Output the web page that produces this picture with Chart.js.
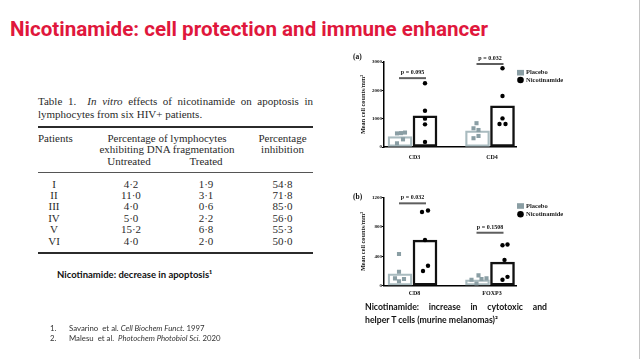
<!DOCTYPE html>
<html><head><meta charset="utf-8">
<script src="https://cdn.jsdelivr.net/npm/chart.js@4.4.0/dist/chart.umd.min.js"></script>
<style>
html,body{margin:0;padding:0;background:#fff;}
#slide{position:relative;width:640px;height:359px;overflow:hidden;background:#fff;}
.t{position:absolute;white-space:nowrap;}
#title{left:10px;top:19px;font:bold 20.6px/20px Roboto, sans-serif;color:#e0173c;}
.rule{position:absolute;left:38px;width:275px;background:#2b2b2b;}
canvas{position:absolute;}
#edge{position:absolute;left:639px;top:0;width:1px;height:359px;background:#c4c4c4;}
</style></head>
<body><div id="slide">
<div id="title" class="t">Nicotinamide: cell protection and immune enhancer</div>
<div class="rule" style="top:126px;height:2px"></div>
<div class="rule" style="top:172px;height:1px;background:#555"></div>
<div class="rule" style="top:252px;height:2px"></div>
<canvas id="chartA" width="260" height="120" style="left:340px;top:50px"></canvas>
<canvas id="chartB" width="260" height="118" style="left:340px;top:188px"></canvas>
<div id="edge"></div>
</div>
<script>
// ---------- data: panel (a) ----------
const categoriesA = ['CD3', 'CD4'];
const placeboMeanA = [370, 570];
const nicotinamideMeanA = [1100, 1450];
const placeboPointsA = [[480, 490, 510, 270, 130], [840, 660, 600, 390, 310]];
const nicotinamidePointsA = [[2250, 1280, 1000, 800, 180], [2780, 1800, 1010, 810, 810]];
const placeboJitterA = [[-3, 1, 5, 3, -3], [-1, -4, 1, 1, -4]];
const nicotinamideJitterA = [[0, 0, 0, 0, 0], [0, 0, 0, -3, 3]];
const pValuesA = ['p = 0.095', 'p = 0.032'];
const yTicksA = [0, 1000, 2000, 3000];

// ---------- data: panel (b) ----------
const categoriesB = ['CD8', 'FOXP3'];
const placeboMeanB = [160, 80];
const nicotinamideMeanB = [620, 320];
const placeboPointsB = [[430, 190, 100, 60, 90], [140, 80, 90, 100, 30]];
const nicotinamidePointsB = [[1000, 1020, 620, 270, 200], [550, 560, 350, 120, 80]];
const placeboJitterB = [[-1, -1, -5, -1, 4], [1, -6, 4, 9, -1]];
const nicotinamideJitterB = [[-3, 3, 0, 3, -2], [0, 5, 2, 5, 0]];
const pValuesB = ['p = 0.032', 'p = 0.1508'];
const yTicksB = [0, 400, 800, 1200];

// ---------- data: table ----------
const patients = ['I', 'II', 'III', 'IV', 'V', 'VI'];
const untreated = ['4·2', '11·0', '4·0', '5·0', '15·2', '4·0'];
const treated = ['1·9', '3·1', '0·6', '2·2', '6·8', '2·0'];
const inhibition = ['54·8', '71·8', '85·0', '56·0', '55·3', '50·0'];

const slide = document.getElementById('slide');
function txt(html, x, cy, font, size, opts) {
  opts = opts || {};
  const d = document.createElement('div');
  d.className = 't';
  d.innerHTML = html;
  const k = opts.k != null ? opts.k : 0.52;
  d.style.font = (opts.weight || 'normal') + ' ' + size + 'px/' + size + 'px ' + font;
  d.style.color = opts.color || '#222';
  d.style.top = (cy - k * size) + 'px';
  d.style.left = x + 'px';
  if (opts.align === 'center') d.style.transform = 'translateX(-50%)';
  if (opts.width) { d.style.width = opts.width + 'px'; d.style.whiteSpace = 'normal'; d.style.textAlign = 'justify'; d.style.textAlignLast = 'justify'; }
  slide.appendChild(d);
  return d;
}
const SERIF = '"Liberation Serif", serif';
const SANS = 'Lato, sans-serif';
const TC = '#2a2a2a';
// caption
txt('Table 1.&nbsp; <i>In vitro</i> effects of nicotinamide on apoptosis in', 38, 102, SERIF, 11, {color: TC, width: 275});
txt('lymphocytes from six HIV+ patients.', 38, 114.3, SERIF, 11, {color: TC});
// headers
txt('Patients', 38, 138.3, SERIF, 11, {color: TC});
txt('Percentage of lymphocytes', 167, 138.3, SERIF, 11, {color: TC, align: 'center'});
txt('exhibiting DNA fragmentation', 167, 150, SERIF, 11, {color: TC, align: 'center'});
txt('Untreated', 129, 161.7, SERIF, 11, {color: TC, align: 'center'});
txt('Treated', 206, 161.7, SERIF, 11, {color: TC, align: 'center'});
txt('Percentage', 282.5, 138.3, SERIF, 11, {color: TC, align: 'center'});
txt('inhibition', 282.5, 150, SERIF, 11, {color: TC, align: 'center'});
patients.forEach((p, i) => {
  const cy = 184.3 + i * 11.4;
  txt(p, 54, cy, SERIF, 11, {color: TC, align: 'center'});
  txt(untreated[i], 131, cy, SERIF, 11, {color: TC, align: 'center'});
  txt(treated[i], 206, cy, SERIF, 11, {color: TC, align: 'center'});
  txt(inhibition[i], 282.5, cy, SERIF, 11, {color: TC, align: 'center'});
});
// side texts
txt('Nicotinamide: decrease in apoptosis¹', 57, 275, SANS, 9.5, {weight: 'bold', color: '#111'});
txt('Nicotinamide: increase in cytotoxic and', 365, 307.3, SANS, 8.7, {weight: 'bold', color: '#111', width: 182});
txt('helper T cells (murine melanomas)²', 365, 320.7, SANS, 8.7, {weight: 'bold', color: '#111'});
txt('1.', 50, 329, SANS, 7.8, {color: '#333'});
txt('Savarino&nbsp; et al. <i>Cell Biochem Funct.</i> 1997', 69, 329, SANS, 7.8, {color: '#333'});
txt('2.', 50, 339.5, SANS, 7.8, {color: '#333'});
txt('Malesu&nbsp; et al.&nbsp; <i>Photochem Photobiol Sci.</i> 2020', 69, 339.5, SANS, 7.8, {color: '#333'});
txt('(a)', 353, 57.3, SERIF, 7.5, {weight: 'bold', color: '#111'});
txt('(b)', 353, 196.7, SERIF, 7.5, {weight: 'bold', color: '#111'});

// ---------- charts ----------
const PLACEBO_PT = '#8a9ea4';
const PLACEBO_BAR = '#a9bbbf';
const GC = [28.5, 106];   // group centres on the x scale
const OFF = 12.5;         // bar offset from the group centre

const annot = {
  id: 'annot',
  afterDatasetsDraw(chart, args, o) {
    const {ctx, scales: {x, y}} = chart;
    ctx.save();
    o.pValues.forEach((p, i) => {
      const cx = x.getPixelForValue(GC[i]);
      const py = y.getPixelForValue(o.pAt[i]);
      ctx.strokeStyle = '#5e5e5e';
      ctx.lineWidth = 2;
      ctx.beginPath();
      ctx.moveTo(x.getPixelForValue(GC[i] - 13.5), py);
      ctx.lineTo(x.getPixelForValue(GC[i] + 13.5), py);
      ctx.stroke();
      ctx.fillStyle = '#111';
      ctx.font = 'bold 6px "Liberation Serif"';
      ctx.textAlign = 'center';
      ctx.textBaseline = 'alphabetic';
      ctx.fillText(p, cx, py - 4);
    });
    const ds = chart.data.datasets;
    const lx = o.legendX;
    ctx.fillStyle = PLACEBO_PT;
    ctx.fillRect(lx - 3.5, o.legendY[0] - 2.8, 7, 5.6);
    ctx.fillStyle = '#000';
    ctx.beginPath();
    ctx.arc(lx, o.legendY[1], 3.3, 0, Math.PI * 2);
    ctx.fill();
    ctx.font = 'bold 6.5px "Liberation Serif"';
    ctx.textAlign = 'left';
    ctx.textBaseline = 'middle';
    ctx.fillStyle = '#222';
    ctx.fillText(ds[0].label, lx + 5.5, o.legendY[0]);
    ctx.fillText(ds[1].label, lx + 5.5, o.legendY[1]);
    ctx.restore();
  }
};

function buildPanel(id, o) {
  const barData = (arr, sign) => arr.map((v, i) => ({x: GC[i] + sign * OFF, y: v}));
  const ptData = (pts, jit, sign) => pts.flatMap((arr, i) => arr.map((v, k) => ({x: GC[i] + sign * OFF + jit[i][k], y: v})));
  new Chart(document.getElementById(id), {
    type: 'bar',
    data: {
      datasets: [
        {type: 'bar', label: 'Placebo', data: barData(o.placeboMean, -1), backgroundColor: 'rgba(255,255,255,0)',
         borderColor: PLACEBO_BAR, borderWidth: 1.6, borderSkipped: false, barThickness: 24, grouped: false, order: 2},
        {type: 'bar', label: 'Nicotinamide', data: barData(o.nicMean, 1), backgroundColor: 'rgba(255,255,255,0)',
         borderColor: '#111', borderWidth: 1.8, borderSkipped: false, barThickness: 24, grouped: false, order: 2},
        {type: 'scatter', label: 'Placebo points', data: ptData(o.placeboPts, o.placeboJit, -1), pointStyle: 'rect',
         pointRadius: 2.9, backgroundColor: PLACEBO_PT, borderWidth: 0, order: 0},
        {type: 'scatter', label: 'Nicotinamide points', data: ptData(o.nicPts, o.nicJit, 1), pointStyle: 'circle',
         pointRadius: 2.2, backgroundColor: '#000', borderWidth: 0, order: 0}
      ]
    },
    options: {
      responsive: false, animation: false, devicePixelRatio: 1,
      layout: {padding: {left: 18, top: o.padTop, right: 84, bottom: 0}},
      plugins: {legend: {display: false}, tooltip: {enabled: false},
        annot: {pValues: o.pValues, pAt: o.pAt, legendX: 180.5, legendY: o.legendY}},
      scales: {
        x: {type: 'linear', min: 0, max: 132, offset: false,
          grid: {display: false, drawTicks: false, offset: false},
          border: {display: true, color: '#000', width: 1.5},
          afterFit: s => { s.height = o.xHeight; },
          afterBuildTicks: s => { s.ticks = GC.map(v => ({value: v + 2})); },
          ticks: {autoSkip: false, maxRotation: 0, padding: o.xPad, color: '#111',
            font: {family: 'Liberation Serif', weight: 'bold', size: 6},
            callback: (v, i) => o.categories[i]}},
        y: {min: 0, max: o.yTicks[o.yTicks.length - 1],
          afterFit: s => { s.width = 26; },
          afterBuildTicks: s => { s.ticks = o.yTicks.map(v => ({value: v})); },
          grid: {display: true, drawOnChartArea: false, drawTicks: true, tickLength: 2, color: '#000'},
          border: {display: true, color: '#000', width: 1.5},
          ticks: {padding: 0, color: '#111', font: {family: 'Liberation Serif', weight: 'bold', size: 5},
            callback: v => String(v)},
          title: {display: true, text: 'Mean cell counts/mm²', color: '#111', padding: {top: 2, bottom: 0},
            font: {family: 'Liberation Serif', weight: 'bold', size: 6.3}}}
      }
    },
    plugins: [annot]
  });
}

buildPanel('chartA', {categories: categoriesA, placeboMean: placeboMeanA, nicMean: nicotinamideMeanA,
  placeboPts: placeboPointsA, nicPts: nicotinamidePointsA, placeboJit: placeboJitterA, nicJit: nicotinamideJitterA,
  pValues: pValuesA, pAt: [2430, 2930], yTicks: yTicksA, padTop: 12, xHeight: 23, xPad: 7, legendY: [22.7, 30]});
buildPanel('chartB', {categories: categoriesB, placeboMean: placeboMeanB, nicMean: nicotinamideMeanB,
  placeboPts: placeboPointsB, nicPts: nicotinamidePointsB, placeboJit: placeboJitterB, nicJit: nicotinamideJitterB,
  pValues: pValuesB, pAt: [1118, 719], yTicks: yTicksB, padTop: 9.3, xHeight: 20.3, xPad: 4, legendY: [18, 26.3]});
</script>
</body></html>
